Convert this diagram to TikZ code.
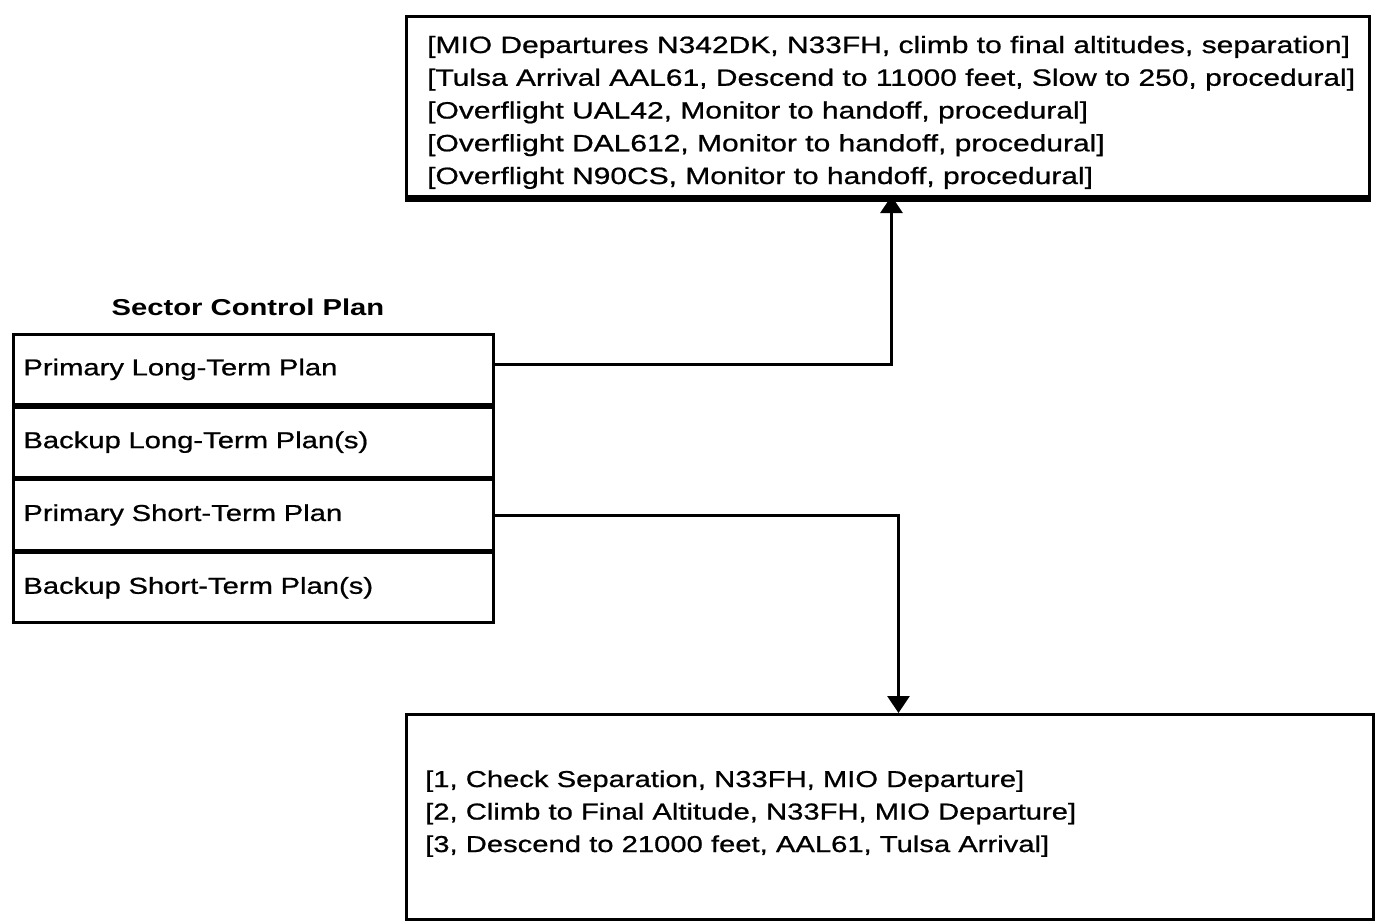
\documentclass[tikz,border=0pt]{standalone}
\usepackage{fontspec}
\setmainfont{Liberation Sans}[FakeStretch=1.27, UprightFeatures={FakeBold=0.8}]
\usetikzlibrary{arrows.meta}
\begin{document}
\begin{tikzpicture}[x=1pt,y=-1pt,
  box/.style={draw, line width=3pt, rectangle, inner sep=0pt},
  row/.style={draw, line width=2.8pt, rectangle, minimum width=480pt, minimum height=70pt,
     text width=460pt, inner xsep=10pt, align=left, font=\fontsize{23}{28}\selectfont},
  txt/.style={align=left, inner sep=0pt, anchor=base west},
  conn/.style={line width=3pt, -{Triangle[width=22pt,length=17pt]}}]
\useasboundingbox (0,0) rectangle (1376,922);
% top box
\node[box, minimum width=963pt, minimum height=180pt, anchor=north west] (top) at (405,15) {};
\draw[line width=6pt] ([yshift=-1pt]top.south west) -- ([yshift=-1pt]top.south east);
\node[txt, font=\fontsize{23.6}{32.75}\selectfont] (toptext) at (427,184) {%
{[}MIO Departures N342DK, N33FH, climb to final altitudes, separation{]}\\
{[}Tulsa Arrival AAL61, Descend to 11000 feet, Slow to 250, procedural{]}\\
{[}Overflight UAL42, Monitor to handoff, procedural{]}\\
{[}Overflight DAL612, Monitor to handoff, procedural{]}\\
{[}Overflight N90CS, Monitor to handoff, procedural{]}};
% left stack
\node[anchor=base, inner sep=0pt, font=\bfseries\fontsize{23}{28}\selectfont] (title) at (248,315) {Sector Control Plan};
\node[row, anchor=north west] (r1) at (12,333) {Primary Long-Term Plan};
\node[row, anchor=north] (r2) at (r1.south) {Backup Long-Term Plan(s)};
\node[row, anchor=north] (r3) at (r2.south) {Primary Short-Term Plan};
\node[row, anchor=north] (r4) at (r3.south) {Backup Short-Term Plan(s)};
% bottom box
\node[box, minimum width=967pt, minimum height=205pt, anchor=north west] (bot) at (405,713) {};
\node[txt, font=\fontsize{23}{32.5}\selectfont] (bottext) at (425,852) {%
{[}1, Check Separation, N33FH, MIO Departure{]}\\
{[}2, Climb to Final Altitude, N33FH, MIO Departure{]}\\
{[}3, Descend to 21000 feet, AAL61, Tulsa Arrival{]}};
% connectors
\draw[conn] ([yshift=5pt]r1.east) -| ([xshift=3.5pt,yshift=2pt]top.south);
\draw[conn] (r3.east) -| ([xshift=8.5pt]bot.north);
\end{tikzpicture}
\end{document}
